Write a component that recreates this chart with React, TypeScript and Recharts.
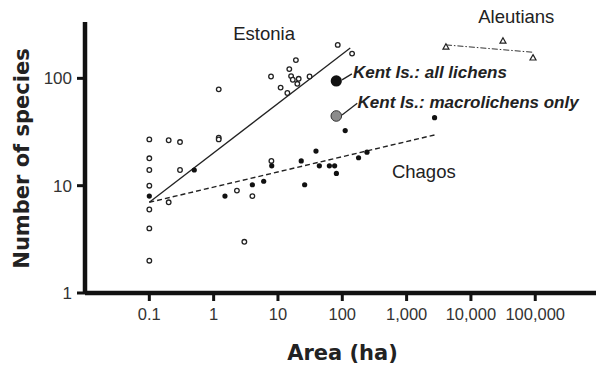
import React from 'react';
import { ScatterChart, Scatter, XAxis, YAxis, ReferenceLine, ReferenceDot } from 'recharts';

const xTicks = [0.1, 1, 10, 100, 1000, 10000, 100000];
const yTicks = [1, 10, 100];

const estonia = [
  { area: 0.1, species: 27 }, { area: 0.1, species: 18 }, { area: 0.1, species: 14 },
  { area: 0.1, species: 10 }, { area: 0.1, species: 6 }, { area: 0.1, species: 4 },
  { area: 0.1, species: 2 }, { area: 0.2, species: 7 }, { area: 0.2, species: 26.5 },
  { area: 0.3, species: 25.5 }, { area: 0.3, species: 14 }, { area: 1.2, species: 79 },
  { area: 1.2, species: 28 }, { area: 1.2, species: 27 }, { area: 2.3, species: 9 },
  { area: 3, species: 3 }, { area: 4, species: 8 }, { area: 7.9, species: 17 },
  { area: 85, species: 205 }, { area: 142, species: 170 }, { area: 19, species: 148 },
  { area: 15, species: 122 }, { area: 7.8, species: 104 }, { area: 16, species: 105 },
  { area: 17, species: 97 }, { area: 21, species: 99 }, { area: 31, species: 104 },
  { area: 11, species: 82 }, { area: 20, species: 89 }, { area: 14, species: 73 },
];

const chagos = [
  { area: 0.1, species: 8 }, { area: 0.5, species: 14 }, { area: 1.5, species: 8 },
  { area: 4, species: 10.2 }, { area: 6, species: 11 }, { area: 8, species: 15.3 },
  { area: 23, species: 17 }, { area: 26, species: 10.2 }, { area: 39, species: 21 },
  { area: 44, species: 15.3 }, { area: 63, species: 15.3 }, { area: 76, species: 15.3 },
  { area: 81, species: 13 }, { area: 111, species: 32.6 }, { area: 179, species: 18.2 },
  { area: 242, species: 20.5 }, { area: 2720, species: 43 },
];

const aleutians = [
  { area: 4090, species: 197 }, { area: 31500, species: 224 }, { area: 92300, species: 156 },
];

const kentAll = [{ area: 80.7, species: 94.6 }];
const kentMacro = [{ area: 80.7, species: 44.6 }];

const estoniaFit = [{ x: 0.1, y: 7 }, { x: 133, y: 192 }];
const chagosFit = [{ x: 0.1, y: 7 }, { x: 2720, y: 29.7 }];
const aleutiansFit = [{ x: 4090, y: 205 }, { x: 92300, y: 175 }];
const kentAllLeader = [{ x: 99, y: 96.7 }, { x: 141, y: 110 }];
const kentMacroLeader = [{ x: 99, y: 45.6 }, { x: 171, y: 58.6 }];

const regionLabels = [
  { text: 'Estonia', area: 6.1, species: 228 },
  { text: 'Aleutians', area: 50700, species: 328 },
  { text: 'Chagos', area: 1850, species: 11.7 },
];
const kentLabels = [
  { text: 'Kent Is.: all lichens', area: 146.5, species: 100 },
  { text: 'Kent Is.: macrolichens only', area: 173, species: 53 },
];

const fmt = (v: number) => (v < 1 ? String(v) : v.toLocaleString('en-US'));

const OpenCircle = (p: any) => (
  <circle cx={p.cx} cy={p.cy} r={2.3} fill="#fff" stroke="#222" strokeWidth={1.3} />
);
const FilledCircle = (p: any) => <circle cx={p.cx} cy={p.cy} r={2.6} fill="#111" />;
const Triangle = (p: any) => (
  <path
    d={`M${p.cx},${p.cy - 3} L${p.cx + 3},${p.cy + 2.4} L${p.cx - 3},${p.cy + 2.4} Z`}
    fill="#fff"
    stroke="#222"
    strokeWidth={1.2}
  />
);
const BigBlack = (p: any) => <circle cx={p.cx} cy={p.cy} r={5.6} fill="#111" />;
const BigGray = (p: any) => (
  <circle cx={p.cx} cy={p.cy} r={5.3} fill="#8c8c8c" stroke="#333" strokeWidth={1} />
);

const makeLabel = (text: string, anchor: string, bold: boolean) => (props: any) => {
  const vb = props.viewBox || {};
  const x = (vb.x || 0) + (vb.width || 0) / 2;
  const y = (vb.y || 0) + (vb.height || 0) / 2;
  return (
    <text
      x={x}
      y={y}
      textAnchor={anchor}
      fontFamily="Liberation Sans, Arial, sans-serif"
      fontSize={bold ? 17 : 18.5}
      fontWeight={bold ? 'bold' : 'normal'}
      fontStyle={bold ? 'italic' : 'normal'}
      fill="#222"
    >
      {text}
    </text>
  );
};

const xTitle = (props: any) => {
  const vb = props.viewBox;
  return (
    <text
      x={vb.x + vb.width / 2 + 2}
      y={vb.y + 60}
      textAnchor="middle"
      dominantBaseline="central"
      fontFamily="DejaVu Sans, sans-serif"
      fontWeight="bold"
      fontSize={21}
      fill="#222"
    >
      Area (ha)
    </text>
  );
};

const yTitle = (props: any) => {
  const vb = props.viewBox;
  const cx = 22;
  const cy = vb.y + vb.height / 2 + 1;
  return (
    <text
      x={cx}
      y={cy}
      transform={`rotate(-90 ${cx} ${cy})`}
      textAnchor="middle"
      dominantBaseline="central"
      fontFamily="DejaVu Sans, sans-serif"
      fontWeight="bold"
      fontSize={21}
      fill="#222"
    >
      Number of species
    </text>
  );
};

export default function App() {
  return (
    <div style={{ position: 'absolute', left: 0, top: 0, width: 596, height: 368, background: '#fff' }}>
      <ScatterChart width={596} height={368} margin={{ top: 22, right: 0, bottom: 0, left: 0 }}>
        <XAxis
          type="number"
          dataKey="area"
          scale="log"
          domain={[0.01, 880000]}
          allowDataOverflow
          ticks={xTicks}
          interval={0}
          tickFormatter={fmt}
          height={75}
          axisLine={{ stroke: '#111', strokeWidth: 4.5 }}
          tickLine={{ stroke: '#111', strokeWidth: 3 }}
          tickSize={8}
          tickMargin={7}
          tick={{ fill: '#333', fontSize: 16.5, fontFamily: 'Liberation Sans, Arial, sans-serif' }}
          label={xTitle}
        />
        <YAxis
          type="number"
          dataKey="species"
          scale="log"
          domain={[1, 335]}
          allowDataOverflow
          ticks={yTicks}
          interval={0}
          width={85}
          axisLine={{ stroke: '#111', strokeWidth: 4.5 }}
          tickLine={{ stroke: '#111', strokeWidth: 3 }}
          tickSize={8}
          tickMargin={5}
          tick={{ fill: '#333', fontSize: 17, fontFamily: 'Liberation Sans, Arial, sans-serif' }}
          label={yTitle}
        />
        <ReferenceLine segment={estoniaFit} stroke="#222" strokeWidth={1.3} />
        <ReferenceLine segment={chagosFit} stroke="#222" strokeWidth={1.4} strokeDasharray="5 3" />
        <ReferenceLine segment={aleutiansFit} stroke="#333" strokeWidth={1} strokeDasharray="6 2 1.5 2" />
        <ReferenceLine segment={kentAllLeader} stroke="#222" strokeWidth={1.3} />
        <ReferenceLine segment={kentMacroLeader} stroke="#222" strokeWidth={1.3} />
        <Scatter data={estonia} shape={OpenCircle} isAnimationActive={false} />
        <Scatter data={chagos} shape={FilledCircle} isAnimationActive={false} />
        <Scatter data={aleutians} shape={Triangle} isAnimationActive={false} />
        <Scatter data={kentAll} shape={BigBlack} isAnimationActive={false} />
        <Scatter data={kentMacro} shape={BigGray} isAnimationActive={false} />
        {regionLabels.map((l) => (
          <ReferenceDot
            key={l.text}
            x={l.area}
            y={l.species}
            r={0}
            fill="none"
            stroke="none"
            ifOverflow="visible"
            label={makeLabel(l.text, 'middle', false)}
          />
        ))}
        {kentLabels.map((l) => (
          <ReferenceDot
            key={l.text}
            x={l.area}
            y={l.species}
            r={0}
            fill="none"
            stroke="none"
            ifOverflow="visible"
            label={makeLabel(l.text, 'start', true)}
          />
        ))}
      </ScatterChart>
    </div>
  );
}
